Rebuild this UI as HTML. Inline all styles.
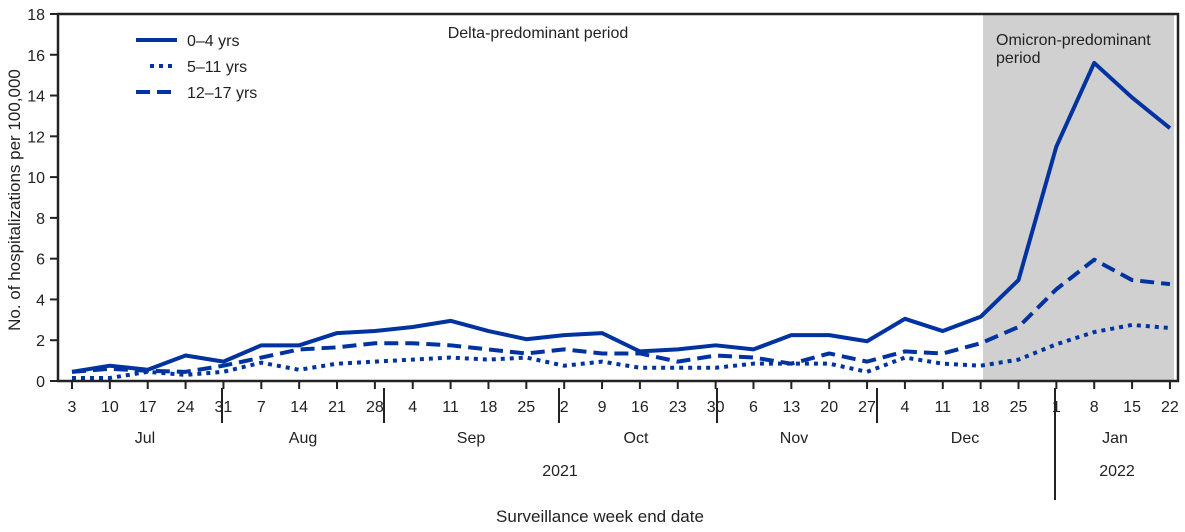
<!DOCTYPE html>
<html><head><meta charset="utf-8"><style>
html,body{margin:0;padding:0;background:#fff;}
svg{display:block;font-family:"Liberation Sans",sans-serif;}
</style></head><body>
<svg width="1185" height="532" viewBox="0 0 1185 532" xmlns="http://www.w3.org/2000/svg">
<rect x="983" y="14" width="191" height="367" fill="#d0d0d0"/>
<g id="ylab" font-size="16" fill="#222" text-anchor="end"></g>
<text transform="translate(20,200) rotate(-90)" font-size="17" fill="#222" text-anchor="middle">No. of hospitalizations per 100,000</text>
<text x="538" y="38" font-size="16" fill="#222" text-anchor="middle">Delta-predominant period</text>
<text x="996" y="45" font-size="16" fill="#222">Omicron-predominant</text>
<text x="996" y="63" font-size="16" fill="#222">period</text>
<g stroke="#0033a0" stroke-width="4" fill="none">
<line x1="136" y1="40" x2="177" y2="40"/>
<line x1="150" y1="66" x2="177" y2="66" stroke-dasharray="4,5"/>
<line x1="136" y1="92" x2="177" y2="92" stroke-dasharray="14,7"/>
</g>
<g font-size="16" fill="#222"><text x="187" y="46">0–4 yrs</text><text x="187" y="72">5–11 yrs</text><text x="187" y="98">12–17 yrs</text></g>
<g id="lines" stroke="#0033a0" stroke-width="4" fill="none" stroke-linejoin="round"></g>
<rect x="58" y="14" width="1120" height="367" fill="none" stroke="#222" stroke-width="2.5"/>
<g id="xt" font-size="16" fill="#222" text-anchor="middle" stroke="#222" stroke-width="2"></g>
<g stroke="#222" stroke-width="2">
<line x1="222" y1="388" x2="222" y2="423"/><line x1="384" y1="388" x2="384" y2="423"/>
<line x1="559" y1="388" x2="559" y2="423"/><line x1="717" y1="388" x2="717" y2="423"/>
<line x1="877" y1="388" x2="877" y2="423"/><line x1="1055" y1="388" x2="1055" y2="500"/>
</g>
<g font-size="16" fill="#222" text-anchor="middle">
<text x="145" y="443">Jul</text><text x="303" y="443">Aug</text><text x="471" y="443">Sep</text>
<text x="636" y="443">Oct</text><text x="794" y="443">Nov</text><text x="965" y="443">Dec</text>
<text x="1115" y="443">Jan</text><text x="560" y="476">2021</text><text x="1117" y="476">2022</text>
<text x="600" y="522" font-size="17">Surveillance week end date</text>
</g>
<script>
var ns="http://www.w3.org/2000/svg";
function Y(v){return 381-v*20.39;} function X(i){return 72+i*37.86;}
var yl=document.getElementById("ylab");
for(var v=0;v<=18;v+=2){var t=document.createElementNS(ns,"text");t.setAttribute("x",45);t.setAttribute("y",Y(v)+6);t.textContent=v;yl.appendChild(t);
var l=document.createElementNS(ns,"line");l.setAttribute("x1",50);l.setAttribute("x2",58);l.setAttribute("y1",Y(v));l.setAttribute("y2",Y(v));l.setAttribute("stroke","#222");l.setAttribute("stroke-width","2");yl.appendChild(l);}
var labs=[3,10,17,24,31,7,14,21,28,4,11,18,25,2,9,16,23,30,6,13,20,27,4,11,18,25,1,8,15,22];
var xt=document.getElementById("xt");
labs.forEach(function(d,i){var l=document.createElementNS(ns,"line");l.setAttribute("x1",X(i));l.setAttribute("x2",X(i));l.setAttribute("y1",381);l.setAttribute("y2",389);xt.appendChild(l);
var t=document.createElementNS(ns,"text");t.setAttribute("x",X(i));t.setAttribute("y",412);t.setAttribute("stroke","none");t.textContent=d;xt.appendChild(t);});
var s=[[0.45,0.75,0.55,1.25,0.95,1.75,1.75,2.35,2.45,2.65,2.95,2.45,2.05,2.25,2.35,1.45,1.55,1.75,1.55,2.25,2.25,1.95,3.05,2.45,3.15,4.95,11.5,15.6,13.9,12.4],
[0.15,0.15,0.45,0.3,0.45,0.9,0.55,0.85,0.95,1.05,1.15,1.05,1.15,0.75,0.95,0.65,0.65,0.65,0.85,0.85,0.85,0.45,1.15,0.85,0.75,1.05,1.8,2.4,2.75,2.6],
[0.45,0.6,0.5,0.45,0.75,1.15,1.55,1.65,1.85,1.85,1.75,1.55,1.35,1.55,1.35,1.35,0.95,1.25,1.15,0.85,1.35,0.95,1.45,1.35,1.85,2.65,4.5,5.95,4.95,4.75]];
var da=[null,"4,5","14,7"];var g=document.getElementById("lines");
s.forEach(function(a,k){var p=document.createElementNS(ns,"polyline");p.setAttribute("points",a.map(function(v,i){return X(i)+","+Y(v)}).join(" "));if(da[k])p.setAttribute("stroke-dasharray",da[k]);g.appendChild(p);});
</script>
</svg>
</body></html>
